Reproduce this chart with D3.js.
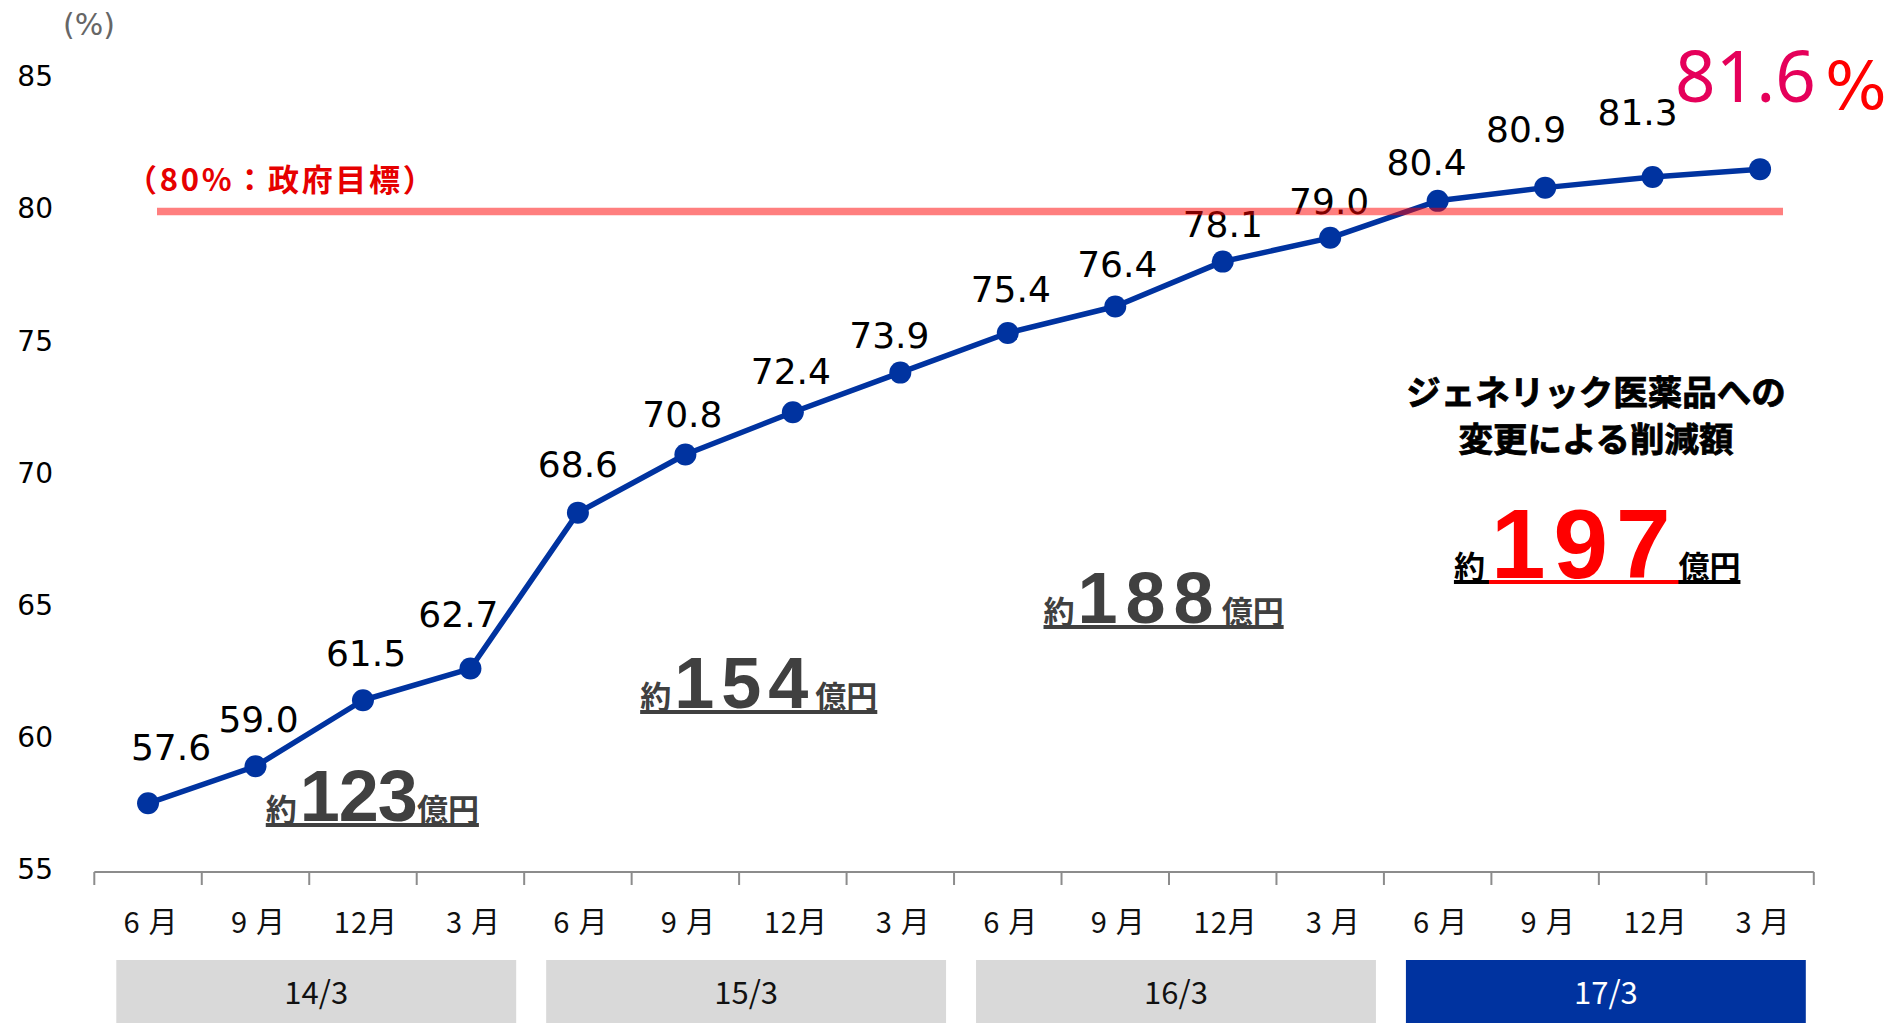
<!DOCTYPE html>
<html>
<head>
<meta charset="utf-8">
<script src="https://cdn.jsdelivr.net/npm/d3@7"></script>
<style>
  html, body { margin: 0; padding: 0; background: #fff; }
  svg { display: block; }
</style>
</head>
<body>
<svg id="chart" width="1894" height="1023"></svg>
<script>
// ---- data ----
const months = ["6月","9月","12月","3月","6月","9月","12月","3月","6月","9月","12月","3月","6月","9月","12月","3月"];
const rates = [57.6, 59.0, 61.5, 62.7, 68.6, 70.8, 72.4, 73.9, 75.4, 76.4, 78.1, 79.0, 80.4, 80.9, 81.3, 81.6];
const rateLabels = ["57.6","59.0","61.5","62.7","68.6","70.8","72.4","73.9","75.4","76.4","78.1","79.0","80.4","80.9","81.3","81.6"];
const fiscalYears = ["14/3", "15/3", "16/3", "17/3"];
const savings = [123, 154, 188, 197];
const yTicks = [55, 60, 65, 70, 75, 80, 85];
const targetValue = 80;
const targetLabel = "（80%：政府目標）";
const savingsTitle = ["ジェネリック医薬品への", "変更による削減額"];

// ---- layout (label nudges, not data) ----
const labelNudge = [[23,-43],[3,-34],[3,-34],[-12,-42],[0,-36],[-3,-28],[-2,-28],[-11,-25],[3,-31],[2,-30],[0,-25],[-1,-24],[-11,-26],[-19,-46],[-15,-52]];

const svg = d3.select("#chart");
const blue = "#0033A0";
const CJK = "'Noto Sans CJK JP', sans-serif";

const x = d3.scaleBand().domain(d3.range(rates.length)).range([94.3, 1813.8]).padding(0);
const y = d3.scaleLinear().domain([55, 85]).range([872, 79.3]);
const cx = i => x(i) + x.bandwidth() / 2;

// y tick labels
svg.append("g").selectAll("text").data(yTicks).join("text")
  .attr("x", 53).attr("y", d => y(d) + 7)
  .attr("text-anchor", "end")
  .attr("font-family", "DejaVu Sans").attr("font-size", 28).attr("fill", "#000")
  .text(d => d);

svg.append("text").attr("x", 89).attr("y", 35).attr("text-anchor", "middle")
  .attr("font-family", "DejaVu Sans").attr("font-size", 30).attr("fill", "#666").text("(%)");

// x axis
const xAxis = svg.append("g").attr("transform", `translate(0,${y(55)})`);
xAxis.append("line").attr("x1", x.range()[0]).attr("x2", x.range()[1]).attr("stroke", "#8c8c8c").attr("stroke-width", 2);
xAxis.selectAll("line.tick").data(d3.range(rates.length + 1)).join("line").attr("class", "tick")
  .attr("x1", i => x.range()[0] + i * x.bandwidth()).attr("x2", i => x.range()[0] + i * x.bandwidth())
  .attr("y1", 0).attr("y2", 13).attr("stroke", "#8c8c8c").attr("stroke-width", 2);
xAxis.selectAll("text").data(months).join("text")
  .attr("x", (d, i) => cx(i) + 3).attr("y", 61)
  .attr("text-anchor", "middle").attr("font-family", CJK).attr("font-size", 29)
  .attr("letter-spacing", 1).attr("fill", "#111")
  .each(function(d) {
    const num = d.replace("月", "");
    const t = d3.select(this);
    t.append("tspan").text(num);
    t.append("tspan").attr("dx", num.length === 1 ? 8 : 0).text("月");
  });

// fiscal year boxes
const fy = svg.append("g");
fiscalYears.forEach((t, g) => {
  const x0 = x(g * 4) + 22, x1 = x(g * 4 + 3) + x.bandwidth() - 8;
  const last = g === fiscalYears.length - 1;
  fy.append("rect").attr("x", x0).attr("y", 960).attr("width", x1 - x0).attr("height", 70)
    .attr("fill", last ? blue : "#D9D9D9");
  fy.append("text").attr("x", (x0 + x1) / 2).attr("y", 1004).attr("text-anchor", "middle")
    .attr("font-family", CJK).attr("font-size", 31).attr("fill", last ? "#fff" : "#111").text(t);
});

// series line + points
const line = d3.line().x((d, i) => cx(i)).y(d => y(d));
svg.append("path").datum(rates).attr("d", line).attr("fill", "none")
  .attr("stroke", blue).attr("stroke-width", 5.5).attr("stroke-linejoin", "round");
svg.append("g").selectAll("circle").data(rates).join("circle")
  .attr("cx", (d, i) => cx(i)).attr("cy", d => y(d)).attr("r", 11).attr("fill", blue);

// data labels (all but the last)
svg.append("g").selectAll("text").data(rateLabels.slice(0, -1)).join("text")
  .attr("x", (d, i) => cx(i) + labelNudge[i][0]).attr("y", (d, i) => y(rates[i]) + labelNudge[i][1])
  .attr("text-anchor", "middle").attr("font-family", "DejaVu Sans").attr("font-size", 36).attr("fill", "#000")
  .text(d => d);

// last value big label
const li = rates.length - 1;
const big = svg.append("text").attr("x", cx(li) - 85).attr("y", 102)
  .attr("font-family", "Noto Sans").attr("font-size", 71);
big.append("tspan").attr("fill", "#E5005A").text(rateLabels[li]);
big.append("tspan").attr("fill", "#FF0000").attr("dx", 9).attr("dy", 7)
  .attr("font-family", "DejaVu Sans").attr("font-size", 65).text("%");

// target line (semi-transparent, above series)
svg.append("line").attr("x1", 157).attr("x2", 1783).attr("y1", y(targetValue)).attr("y2", y(targetValue))
  .attr("stroke", "#FF0000").attr("stroke-opacity", 0.5).attr("stroke-width", 7.5);
svg.append("text").attr("x", 126).attr("y", 191)
  .attr("font-family", CJK).attr("font-weight", 700).attr("font-size", 31).attr("letter-spacing", 2.7)
  .attr("fill", "#E60000")
  .text(targetLabel);

// savings title
svg.append("g").selectAll("text").data(savingsTitle).join("text")
  .attr("x", 1596).attr("y", (d, i) => 405 + i * 47).attr("text-anchor", "middle")
  .attr("font-family", CJK).attr("font-weight", 700).attr("font-size", 34.5).attr("fill", "#000")
  .attr("stroke", "#000").attr("stroke-width", 0.8)
  .text(d => d);

// savings annotations
const savingsAnchor = [
  {x: x(1) + 64, y: y(55) - 51},
  {x: x(5) + 8.5, y: y(55) - 164},
  {x: x(9) - 18, y: y(55) - 249},
  {x: x(12) + 70, y: y(55) - 294}
];
const numSpacing = [-1, 7, 8, 8];
savings.forEach((v, k) => {
  const last = k === savings.length - 1;
  const col = last ? "#000" : "#404040";
  const g = svg.append("g");
  const t = g.append("text").attr("x", savingsAnchor[k].x).attr("y", savingsAnchor[k].y).attr("fill", col);
  const s1 = t.append("tspan").attr("font-family", CJK).attr("font-weight", 700).attr("font-size", 31).text("約");
  const s2 = t.append("tspan").attr("font-family", "Liberation Sans").attr("font-weight", 700)
    .attr("font-size", last ? 98 : 72).attr("letter-spacing", numSpacing[k]).attr("dx", last ? 6 : 3)
    .attr("fill", last ? "#FF0000" : col).text(v);
  const s3 = t.append("tspan").attr("font-family", CJK).attr("font-weight", 700).attr("font-size", 31).text("億円");
  const bb = t.node().getBBox();
  const ux0 = savingsAnchor[k].x, ux1 = bb.x + bb.width, uy = savingsAnchor[k].y + 4;
  g.append("line").attr("x1", ux0).attr("x2", ux1).attr("y1", uy).attr("y2", uy).attr("stroke", col).attr("stroke-width", 4);
  if (last) {
    const e1 = s1.node().getComputedTextLength();
    const e2 = s2.node().getComputedTextLength();
    g.append("line").attr("x1", ux0 + e1 + 4).attr("x2", ux0 + e1 + 6 + e2).attr("y1", uy).attr("y2", uy)
      .attr("stroke", "#FF0000").attr("stroke-width", 4);
  }
});
</script>
</body>
</html>
